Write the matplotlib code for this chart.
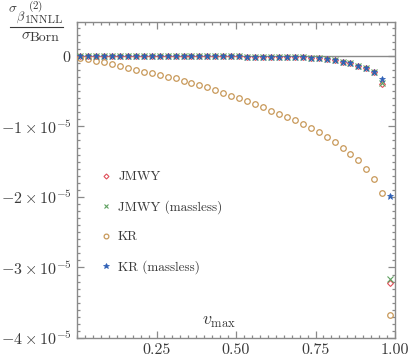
import matplotlib
matplotlib.use("Agg")
import matplotlib.pyplot as plt
from matplotlib.lines import Line2D
from matplotlib.ticker import FixedLocator, MultipleLocator

plt.rcParams['font.family'] = 'cmr10'
plt.rcParams['mathtext.fontset'] = 'cm'
plt.rcParams['axes.unicode_minus'] = True

v_max = [0.010, 0.035, 0.060, 0.085, 0.110, 0.135, 0.160, 0.185, 0.210, 0.235,
         0.260, 0.285, 0.310, 0.335, 0.360, 0.385, 0.410, 0.435, 0.460, 0.485,
         0.510, 0.535, 0.560, 0.585, 0.610, 0.635, 0.660, 0.685, 0.710, 0.735,
         0.760, 0.785, 0.810, 0.835, 0.860, 0.885, 0.910, 0.935, 0.960, 0.985]

# values in units of 1e-5
jmwy = [-0.001, -0.001, -0.001, -0.001, -0.002, -0.002, -0.002, -0.003, -0.003, -0.003,
        -0.004, -0.004, -0.004, -0.005, -0.005, -0.006, -0.006, -0.007, -0.008, -0.008,
        -0.009, -0.010, -0.011, -0.012, -0.013, -0.015, -0.017, -0.019, -0.022, -0.027,
        -0.035, -0.046, -0.064, -0.088, -0.107, -0.140, -0.170, -0.230, -0.400, -3.220]
jmwy_massless = [-0.001, -0.001, -0.001, -0.001, -0.002, -0.002, -0.002, -0.003, -0.003, -0.003,
                 -0.004, -0.004, -0.004, -0.005, -0.005, -0.006, -0.006, -0.007, -0.008, -0.008,
                 -0.009, -0.010, -0.011, -0.012, -0.013, -0.015, -0.017, -0.019, -0.022, -0.027,
                 -0.035, -0.046, -0.064, -0.088, -0.107, -0.140, -0.170, -0.230, -0.380, -3.170]
kr = [-0.037, -0.051, -0.070, -0.093, -0.121, -0.145, -0.177, -0.197, -0.223, -0.244,
      -0.269, -0.296, -0.321, -0.354, -0.382, -0.413, -0.448, -0.483, -0.525, -0.563,
      -0.600, -0.642, -0.680, -0.723, -0.775, -0.821, -0.868, -0.915, -0.966, -1.023,
      -1.085, -1.149, -1.223, -1.300, -1.389, -1.483, -1.600, -1.741, -1.948, -3.676]
kr_massless = [-0.001, -0.001, -0.001, -0.001, -0.002, -0.002, -0.002, -0.003, -0.003, -0.003,
               -0.004, -0.004, -0.004, -0.005, -0.005, -0.006, -0.006, -0.007, -0.008, -0.008,
               -0.009, -0.010, -0.011, -0.012, -0.013, -0.015, -0.017, -0.019, -0.022, -0.027,
               -0.035, -0.046, -0.064, -0.088, -0.107, -0.140, -0.170, -0.225, -0.330, -1.980]

labels = ['JMWY', 'JMWY (massless)', 'KR', 'KR (massless)']
x_ticks = [0.25, 0.50, 0.75, 1.00]
x_tick_labels = ['0.25', '0.50', '0.75', '1.00']
y_ticks = [0, -1e-5, -2e-5, -3e-5, -4e-5]
y_tick_labels = ['$0$', r'$-1\times10^{-5}$', r'$-2\times10^{-5}$',
                 r'$-3\times10^{-5}$', r'$-4\times10^{-5}$']

scale = 1e-5
W, H = 409, 357
fig = plt.figure(figsize=(W / 100, H / 100), dpi=100)
ax = fig.add_axes([0.1883, 0.0532, 0.7775, 0.8852])

gray = '#8a8a8a'
txt = '#3a3a3a'
ax.axhline(0, color=gray, lw=1.0, zorder=1)

ax.plot(v_max, [v * scale for v in jmwy], ls='none', marker='D', ms=3.0,
        mfc='none', mec='#e0505a', mew=0.8, label=labels[0], zorder=3)
ax.plot(v_max, [v * scale for v in jmwy_massless], ls='none', marker='x', ms=3.8,
        mec='#5fa060', mew=0.8, label=labels[1], zorder=3)
ax.plot(v_max, [v * scale for v in kr], ls='none', marker='o', ms=4.0,
        mfc='none', mec='#c8995a', mew=0.9, label=labels[2], zorder=3)
ax.plot(v_max, [v * scale for v in kr_massless], ls='none', marker='*', ms=5.0,
        mfc='#2d5fb5', mec='#2d5fb5', mew=0.5, label=labels[3], zorder=4)

ax.set_xlim(0, 1.0)
ax.set_ylim(-4e-5, 0.48e-5)

ax.xaxis.set_major_locator(FixedLocator(x_ticks))
ax.set_xticklabels(x_tick_labels)
ax.xaxis.set_minor_locator(MultipleLocator(0.025))
ax.yaxis.set_major_locator(FixedLocator(y_ticks))
ax.set_yticklabels(y_tick_labels)
ax.yaxis.set_minor_locator(MultipleLocator(1e-6))

for s in ax.spines.values():
    s.set_color(gray)
    s.set_linewidth(1.0)
ax.tick_params(which='both', direction='in', top=True, right=True, color=gray,
               labelcolor=txt, labelsize=11.5, width=0.9)
ax.tick_params(which='major', length=5, pad=4)
ax.tick_params(which='minor', length=2.5)

ax.text(0.447, 0.05, r'$v_{\rm max}$', transform=ax.transAxes, fontsize=13,
        color=txt, ha='center', va='center')


def ftext(px, py, s, size, ha='center'):
    fig.text(px / W, 1 - py / H, s, fontsize=size, color=txt,
             ha=ha, va='center')


# y-axis label: sigma_{beta_{1 NNLL}^{(2)}} / sigma_Born
ftext(12.3, 9.5, r'$\sigma$', 9.5)
ftext(21.0, 17.5, r'$\beta$', 9)
ftext(35.5, 6.5, r'$(2)$', 8)
ftext(25.2, 20.5, '1NNLL', 8.5, ha='left')
fig.add_artist(Line2D([10 / W, 63 / W], [1 - 27 / H, 1 - 27 / H],
                      transform=fig.transFigure, color=txt, lw=0.8))
ftext(26, 35.5, r'$\sigma$', 11)
ftext(45, 37.5, 'Born', 10)

leg = ax.legend(loc='center left', bbox_to_anchor=(0.071, 0.365), frameon=False,
                fontsize=9.5, handlelength=1.0, handletextpad=0.4,
                labelspacing=1.3, borderpad=0, borderaxespad=0, markerscale=0.85)
for t in leg.get_texts():
    t.set_color(txt)

fig.savefig('out.png', dpi=100)
